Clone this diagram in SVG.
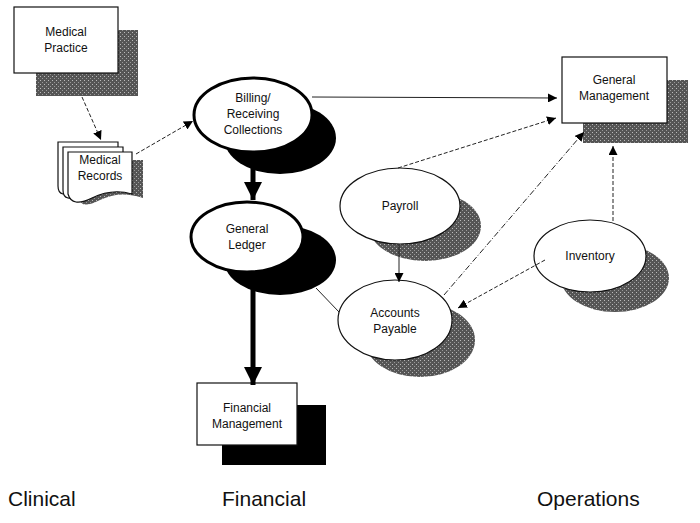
<svg xmlns="http://www.w3.org/2000/svg" width="700" height="523" viewBox="0 0 700 523">
<style>
text{font-family:"Liberation Sans",Arial,sans-serif;font-size:12px;text-anchor:middle;fill:#111}
.lbl{font-size:21px;text-anchor:start}
.n{fill:#fff;stroke:#111;stroke-width:1.2}
.nb{fill:#fff;stroke:#000;stroke-width:3}
.g{fill:url(#stip)}
.k{fill:#000}
.c{stroke:#222;stroke-width:1;fill:none}
.d{stroke-dasharray:4 2}
.dd{stroke-dasharray:6 2 1 2}
</style>
<defs>
<pattern id="stip" width="4" height="4" patternUnits="userSpaceOnUse">
<rect width="4" height="4" fill="#555"/><rect width="1" height="1" fill="#bbb"/><rect x="2" y="2" width="1" height="1" fill="#999"/>
</pattern>
<marker id="a" viewBox="0 0 10 10" refX="10" refY="5" markerWidth="9" markerHeight="9" markerUnits="userSpaceOnUse" orient="auto"><path d="M0,0L10,5L0,10z" fill="#000"/></marker>
<marker id="A" viewBox="0 0 10 10" refX="10" refY="5" markerWidth="18" markerHeight="18" markerUnits="userSpaceOnUse" orient="auto"><path d="M0,0L10,5L0,10z" fill="#000"/></marker>
</defs>
<g id="medical-practice"><rect class="g" x="36" y="30" width="102" height="66"/><rect class="n" x="14" y="7" width="104" height="66"/><text x="66" y="36">Medical</text><text x="66" y="52">Practice</text></g>
<g id="medical-records"><path class="g" d="M80,160H143V198Q120,190 100,200T80,198Z"/><path class="n" d="M58,142H118V186Q98,180 78,190T58,186Z"/><path class="n" d="M63,147H123V190Q103,184 83,194T63,190Z"/><path class="n" d="M68,152H132V194Q112,188 92,198T68,194Z"/><text x="100" y="164">Medical</text><text x="100" y="180">Records</text></g>
<g id="billing"><ellipse class="k" cx="280" cy="138" rx="56" ry="36"/><ellipse class="nb" cx="253" cy="115" rx="59" ry="37"/><text x="253" y="102">Billing/</text><text x="253" y="118">Receiving</text><text x="253" y="134">Collections</text></g>
<g id="general-ledger"><ellipse class="k" cx="280" cy="260" rx="56" ry="35"/><ellipse class="nb" cx="247" cy="237" rx="56" ry="35"/><text x="247" y="233">General</text><text x="247" y="249">Ledger</text></g>
<g id="financial-management"><rect class="k" x="222" y="405" width="104" height="60"/><rect class="n" x="197" y="383" width="100" height="62" stroke-width="2"/><text x="247" y="412">Financial</text><text x="247" y="428">Management</text></g>
<g id="general-management"><rect class="g" x="583" y="80" width="105" height="63"/><rect class="n" x="562" y="57" width="105" height="66"/><text x="614" y="84">General</text><text x="614" y="100">Management</text></g>
<g id="payroll"><ellipse class="g" cx="425" cy="226" rx="56" ry="35"/><ellipse class="n" cx="400" cy="206" rx="60" ry="38"/><text x="400" y="210">Payroll</text></g>
<g id="inventory"><ellipse class="g" cx="615" cy="278" rx="54" ry="34"/><ellipse class="n" cx="590" cy="256" rx="56" ry="36"/><text x="590" y="260">Inventory</text></g>
<g id="accounts-payable"><ellipse class="g" cx="420" cy="340" rx="55" ry="37"/><ellipse class="n" cx="395" cy="320" rx="57" ry="40"/><text x="395" y="317">Accounts</text><text x="395" y="333">Payable</text></g>
<g id="connectors">
<line class="c d" x1="82" y1="97" x2="101" y2="140" marker-end="url(#a)"/>
<line class="c d" x1="136" y1="154" x2="193" y2="121" marker-end="url(#a)"/>
<line class="c" x1="312" y1="97" x2="557" y2="98" marker-end="url(#a)"/>
<line class="c d" x1="398" y1="168" x2="556" y2="118" marker-end="url(#a)"/>
<line class="c dd" x1="444" y1="295" x2="584" y2="132" marker-end="url(#a)"/>
<line class="c d" x1="613" y1="221" x2="613" y2="146" marker-end="url(#a)"/>
<line class="c d" x1="545" y1="260" x2="458" y2="308" marker-end="url(#a)"/>
<line class="c" x1="399" y1="245" x2="399" y2="282" marker-end="url(#a)"/>
<line class="c" x1="316" y1="288" x2="339" y2="312"/>
<line stroke="#000" stroke-width="5" x1="253" y1="153" x2="253" y2="200" marker-end="url(#A)"/>
<line stroke="#000" stroke-width="5" x1="253" y1="273" x2="253" y2="385" marker-end="url(#A)"/>
</g>
<text class="lbl" x="8" y="506">Clinical</text>
<text class="lbl" x="222" y="506">Financial</text>
<text class="lbl" x="537" y="506">Operations</text>
</svg>
